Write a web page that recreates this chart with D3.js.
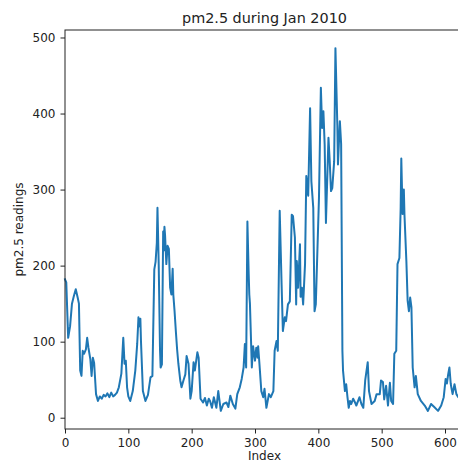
<!DOCTYPE html>
<html>
<head>
<meta charset="utf-8">
<script src="https://cdn.jsdelivr.net/npm/d3@7"></script>
<style>
  body { margin: 0; background: #fff; overflow: hidden; }
  svg { display: block; font-family: "DejaVu Sans", sans-serif; }
  .tick text { fill: #222; }
</style>
</head>
<body>
<div id="chart"></div>
<script>
// hourly readings, index -> value
const hours = [
  0, 2, 5, 8, 11, 14, 17, 20, 22, 24, 26, 28, 30, 33, 35, 37, 40, 42, 44, 46,
  49, 52, 55, 58, 61, 64, 67, 70, 73, 76, 79, 82, 85, 89, 92, 94, 96, 98, 100, 103,
  107, 111, 114, 116, 118, 119, 120, 123, 127, 131, 135, 138, 141, 143, 145, 146, 148, 150, 151, 153,
  155, 156, 157, 158, 160, 162, 164, 166, 168, 170, 171, 173, 175, 177, 179, 182, 184, 187, 190, 192,
  195, 198, 200, 203, 205, 209, 211, 214, 218, 221, 224, 227, 229, 232, 235, 239, 242, 246, 250, 255,
  258, 261, 265, 269, 272, 276, 279, 282, 284, 286, 288, 290, 291, 292, 295, 297, 300, 302, 304, 305,
  307, 310, 313, 315, 318, 322, 325, 329, 331, 334, 336, 339, 342, 344, 347, 349, 352, 355, 358, 360,
  363, 365, 366, 368, 371, 372, 374, 376, 379, 381, 384, 387, 389, 392, 394, 396, 401, 404, 406, 408,
  410, 412, 416, 418, 420, 422, 425, 427, 430, 431, 434, 436, 438, 439, 442, 444, 446, 448, 450, 452,
  455, 458, 460, 465, 468, 471, 474, 478, 480, 484, 489, 492, 497, 499, 502, 504, 507, 510, 513, 515,
  518, 520, 523, 525, 528, 530, 531, 533, 535, 536, 539, 541, 543, 545, 547, 549, 552, 554, 557, 562,
  568, 573, 578, 583, 589, 594, 598, 601, 603, 605, 607, 609, 610, 612, 615, 618, 621, 625, 630
];
const pm25 = [
  182, 178, 105, 120, 150, 160, 169, 158, 150, 62, 55, 88, 84, 90, 105, 92, 77, 55, 79, 72,
  31, 22, 28, 25, 30, 28, 32, 27, 33, 28, 30, 33, 40, 58, 105, 71, 75, 40, 28, 22,
  35, 62, 97, 132, 120, 130, 100, 35, 22, 30, 53, 55, 195, 205, 230, 276, 200, 90, 66, 70,
  245, 220, 251, 240, 202, 226, 222, 171, 162, 196, 162, 140, 114, 90, 71, 49, 40, 49, 57, 81,
  71, 25, 35, 73, 62, 86, 79, 25, 20, 26, 16, 25, 22, 13, 27, 13, 35, 9, 18, 20,
  14, 29, 18, 12, 31, 40, 51, 66, 97, 66, 258, 190, 162, 150, 66, 94, 75, 92, 79, 94,
  71, 35, 27, 38, 13, 31, 27, 35, 88, 101, 88, 272, 175, 114, 132, 127, 149, 153, 267, 265,
  237, 149, 206, 171, 228, 159, 171, 149, 202, 318, 292, 407, 311, 276, 140, 149, 289, 434, 381, 403,
  359, 256, 368, 337, 298, 302, 337, 486, 385, 333, 390, 360, 88, 62, 35, 44, 27, 13, 22, 18,
  25, 20, 16, 27, 18, 13, 49, 73, 35, 18, 22, 31, 31, 49, 47, 24, 42, 16, 46, 22,
  18, 84, 88, 202, 210, 276, 341, 268, 300, 267, 206, 154, 140, 158, 145, 66, 40, 55, 31, 22,
  16, 9, 18, 14, 9, 16, 27, 51, 45, 57, 66, 45, 40, 31, 44, 31, 27, 35, 28
];
const xTicks = [0, 100, 200, 300, 400, 500, 600];
const yTicks = [0, 100, 200, 300, 400, 500];

const width = 458, height = 470;
const margin = {top: 30, right: 464, bottom: 429, left: 65};

const data = hours.map((h, i) => ({h: h, v: pm25[i]}));

const [vMin, vMax] = d3.extent(pm25);
const pad = (vMax - vMin) * 0.05;

const x = d3.scaleLinear()
    .domain([0, d3.max(hours)])
    .range([margin.left, margin.right]);

const y = d3.scaleLinear()
    .domain([vMin - pad, vMax + pad])
    .range([margin.bottom, margin.top]);

const svg = d3.select("#chart")
    .append("svg")
    .attr("width", width)
    .attr("height", height);

svg.append("path")
    .datum(data)
    .attr("fill", "none")
    .attr("stroke", "#1f77b4")
    .attr("stroke-width", 2)
    .attr("stroke-linejoin", "round")
    .attr("stroke-linecap", "square")
    .attr("d", d3.line().x(d => x(d.h)).y(d => y(d.v)));

// axes frame
svg.append("rect")
    .attr("x", margin.left)
    .attr("y", margin.top)
    .attr("width", margin.right - margin.left)
    .attr("height", margin.bottom - margin.top)
    .attr("fill", "none")
    .attr("stroke", "#222")
    .attr("stroke-width", 1);

svg.append("g")
    .attr("transform", `translate(0,${margin.bottom})`)
    .call(d3.axisBottom(x).tickValues(xTicks).tickSize(4.5).tickPadding(4.5))
    .call(g => g.select(".domain").remove())
    .call(g => g.selectAll(".tick line").attr("stroke", "#222"))
    .call(g => g.selectAll(".tick text").attr("font-size", 12).attr("font-family", "DejaVu Sans"));

svg.append("g")
    .attr("transform", `translate(${margin.left},0)`)
    .call(d3.axisLeft(y).tickValues(yTicks).tickSize(4.5).tickPadding(5))
    .call(g => g.select(".domain").remove())
    .call(g => g.selectAll(".tick line").attr("stroke", "#222"))
    .call(g => g.selectAll(".tick text").attr("font-size", 12).attr("font-family", "DejaVu Sans"));

const cx = (margin.left + margin.right) / 2;
const cy = (margin.top + margin.bottom) / 2;

svg.append("text")
    .attr("x", cx)
    .attr("y", 22.5)
    .attr("text-anchor", "middle")
    .attr("font-size", 14.4)
    .attr("fill", "#222")
    .text("pm2.5 during Jan 2010");

svg.append("text")
    .attr("x", cx)
    .attr("y", 460)
    .attr("text-anchor", "middle")
    .attr("font-size", 12)
    .attr("fill", "#222")
    .text("Index");

svg.append("text")
    .attr("transform", `translate(22.5,${cy}) rotate(-90)`)
    .attr("text-anchor", "middle")
    .attr("font-size", 12)
    .attr("fill", "#222")
    .text("pm2.5 readings");
</script>
</body>
</html>
